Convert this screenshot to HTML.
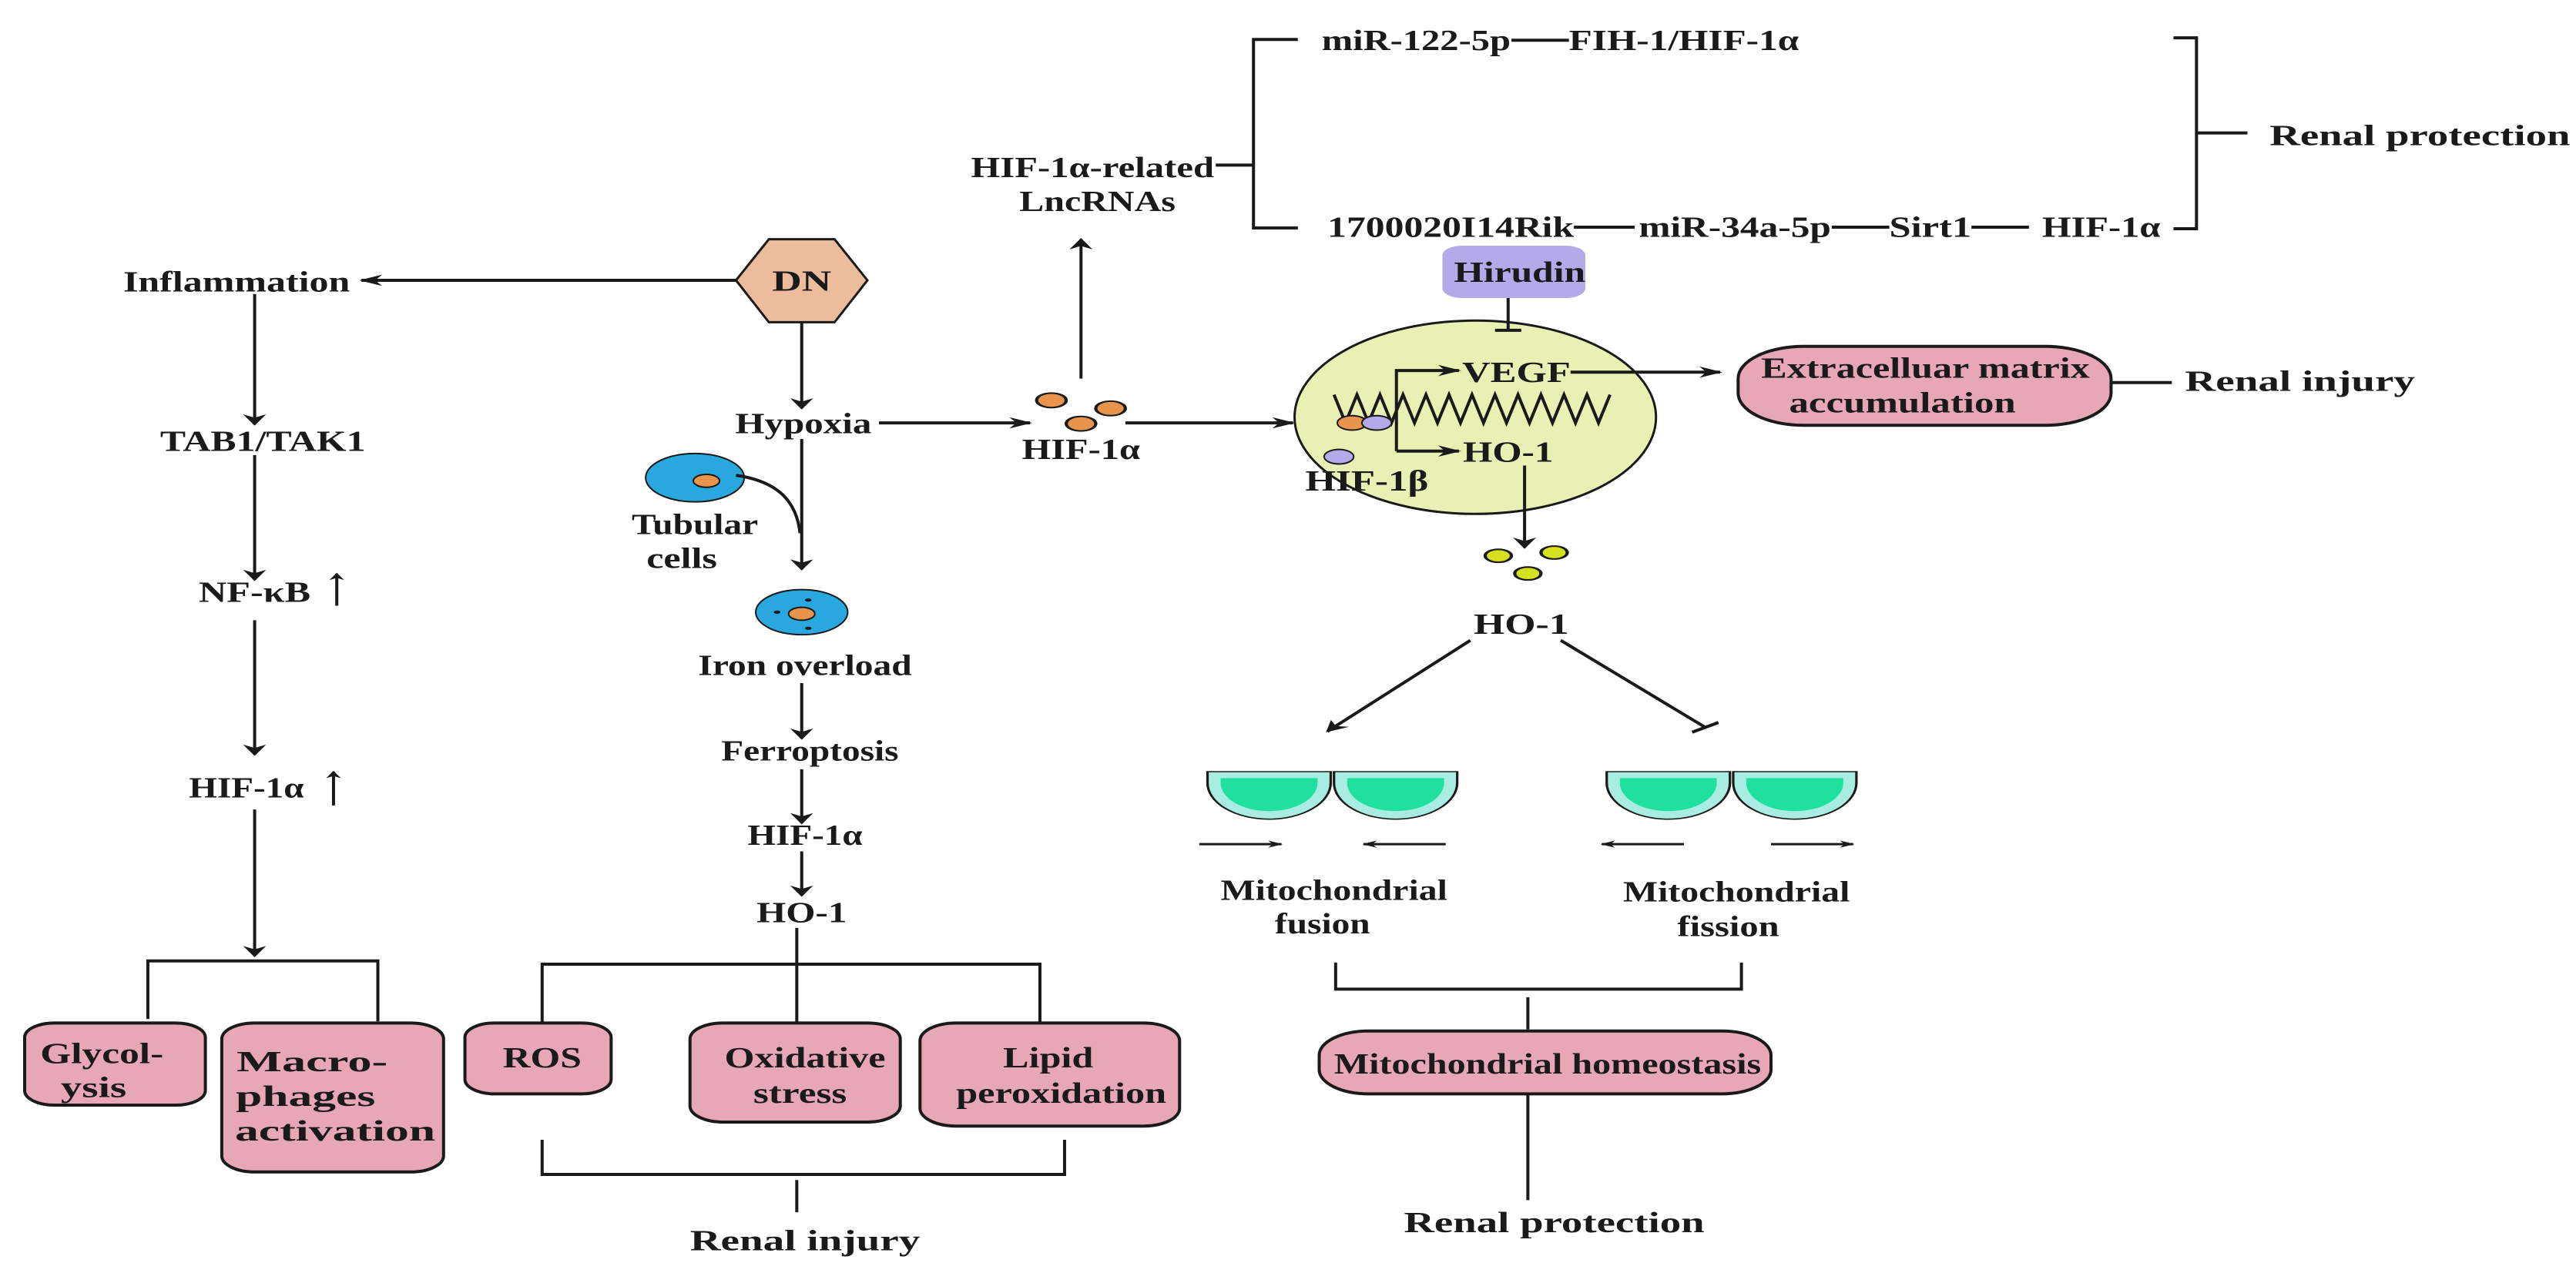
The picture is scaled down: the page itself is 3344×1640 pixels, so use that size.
<!DOCTYPE html>
<html><head><meta charset="utf-8"><style>
html,body{margin:0;padding:0;background:#fff;}
svg{display:block;}
text{font-family:"Liberation Serif",serif;font-weight:bold;font-size:36px;fill:#1a1a1a;transform:translateY(3px);}
.l{stroke:#1a1a1a;stroke-width:4;fill:none;vector-effect:non-scaling-stroke;}
.b{stroke:#1a1a1a;stroke-width:4;fill:#e8a7b7;vector-effect:non-scaling-stroke;}
</style></head><body>
<svg width="3344" height="1640" viewBox="0 0 1568 1568" preserveAspectRatio="none" xmlns="http://www.w3.org/2000/svg">
<defs>
<marker id="a" viewBox="0 0 10 10" refX="9" refY="5" markerWidth="9" markerHeight="9" markerUnits="userSpaceOnUse" orient="auto"><path d="M0,0 L10,5 L0,10 L3,5z" fill="#1a1a1a"/></marker>
<marker id="A" viewBox="0 0 10 10" refX="9" refY="5" markerWidth="14" markerHeight="14" markerUnits="userSpaceOnUse" orient="auto"><path d="M0,0 L10,5 L0,10 L3,5z" fill="#1a1a1a"/></marker>
</defs>
<g text-anchor="middle">
<path class="l" d="M790,49 H763 V283 H790"/>
<path class="l" d="M740,205 H763"/>
<path class="l" d="M1323,47 H1337 V284 H1323 M1337,165 H1368"/>
<path class="l" d="M920,50 H955 M958,282 H995 M1115,282 H1150 M1200,282 H1235"/>
<text x="862" y="59" textLength="115" lengthAdjust="spacingAndGlyphs">miR-122-5p</text>
<text x="1025" y="59" textLength="140" lengthAdjust="spacingAndGlyphs">FIH-1/HIF-1α</text>
<text x="1473" y="177" textLength="183" lengthAdjust="spacingAndGlyphs">Renal protection</text>
<text x="665" y="217" textLength="148" lengthAdjust="spacingAndGlyphs">HIF-1α-related</text>
<text x="668" y="259" textLength="95" lengthAdjust="spacingAndGlyphs">LncRNAs</text>
<text x="883" y="291" textLength="150" lengthAdjust="spacingAndGlyphs">1700020I14Rik</text>
<text x="1056" y="291" textLength="117" lengthAdjust="spacingAndGlyphs">miR-34a-5p</text>
<text x="1175" y="291" textLength="50" lengthAdjust="spacingAndGlyphs">Sirt1</text>
<text x="1279" y="291" textLength="72" lengthAdjust="spacingAndGlyphs">HIF-1α</text>

<polygon points="448,348 468,297 508,297 528,348 508,400 468,400" fill="#edbc9c" stroke="#1a1a1a" stroke-width="3" vector-effect="non-scaling-stroke"/>
<text x="488" y="358" textLength="36" lengthAdjust="spacingAndGlyphs">DN</text>
<path class="l" d="M448,348 H220" marker-end="url(#A)"/>
<text x="144" y="359" textLength="138" lengthAdjust="spacingAndGlyphs">Inflammation</text>

<path class="l" d="M155,365 V527" marker-end="url(#A)"/>
<text x="160" y="557" textLength="125" lengthAdjust="spacingAndGlyphs">TAB1/TAK1</text>
<path class="l" d="M155,565 V720" marker-end="url(#A)"/>
<text x="155" y="744" textLength="68" lengthAdjust="spacingAndGlyphs">NF-κB</text>
<path class="l" d="M205,752 V712" marker-end="url(#a)"/>
<path class="l" d="M155,770 V937" marker-end="url(#A)"/>
<text x="150" y="987" textLength="70" lengthAdjust="spacingAndGlyphs">HIF-1α</text>
<path class="l" d="M203,1000 V958" marker-end="url(#a)"/>
<path class="l" d="M155,1005 V1187" marker-end="url(#A)"/>
<path class="l" d="M90,1265 V1193 H230 V1268"/>
<rect class="b" x="15" y="1270" width="110" height="102" rx="18"/>
<text x="62" y="1317" textLength="75" lengthAdjust="spacingAndGlyphs">Glycol-</text>
<text x="57" y="1359" textLength="40" lengthAdjust="spacingAndGlyphs">ysis</text>
<rect class="b" x="135" y="1270" width="135" height="185" rx="20"/>
<text x="190" y="1327" textLength="92" lengthAdjust="spacingAndGlyphs">Macro-</text>
<text x="186" y="1370" textLength="85" lengthAdjust="spacingAndGlyphs">phages</text>
<text x="204" y="1413" textLength="122" lengthAdjust="spacingAndGlyphs">activation</text>

<path class="l" d="M488,400 V507" marker-end="url(#A)"/>
<text x="489" y="535" textLength="83" lengthAdjust="spacingAndGlyphs">Hypoxia</text>
<path class="l" d="M535,525 H627" marker-end="url(#A)"/>
<path class="l" d="M488,545 V707" marker-end="url(#A)"/>
<circle cx="423" cy="593" r="30" fill="#29a8e0" stroke="#1a1a1a" stroke-width="2" vector-effect="non-scaling-stroke"/>
<circle cx="430" cy="597" r="8" fill="#e8944c" stroke="#1a1a1a" stroke-width="2" vector-effect="non-scaling-stroke"/>
<path class="l" d="M448,590 C475,598 485,625 487,662"/>
<text x="423" y="660" textLength="77" lengthAdjust="spacingAndGlyphs">Tubular</text>
<text x="415" y="702" textLength="43" lengthAdjust="spacingAndGlyphs">cells</text>
<circle cx="488" cy="760" r="28" fill="#29a8e0" stroke="#1a1a1a" stroke-width="2" vector-effect="non-scaling-stroke"/>
<circle cx="488" cy="762" r="8" fill="#e8944c" stroke="#1a1a1a" stroke-width="2" vector-effect="non-scaling-stroke"/>
<circle cx="473" cy="760" r="2" fill="#1a1a1a"/><circle cx="492" cy="745" r="2" fill="#1a1a1a"/><circle cx="492" cy="780" r="2" fill="#1a1a1a"/>
<text x="490" y="835" textLength="130" lengthAdjust="spacingAndGlyphs">Iron overload</text>
<path class="l" d="M488,848 V917" marker-end="url(#A)"/>
<text x="493" y="941" textLength="108" lengthAdjust="spacingAndGlyphs">Ferroptosis</text>
<path class="l" d="M488,955 V1022" marker-end="url(#A)"/>
<text x="490" y="1046" textLength="70" lengthAdjust="spacingAndGlyphs">HIF-1α</text>
<path class="l" d="M488,1057 V1112" marker-end="url(#A)"/>
<text x="488" y="1142" textLength="55" lengthAdjust="spacingAndGlyphs">HO-1</text>
<path class="l" d="M485,1152 V1270"/>
<path class="l" d="M330,1270 V1197 H633 V1270"/>
<rect class="b" x="283" y="1270" width="89" height="88" rx="18"/>
<text x="330" y="1322" textLength="48" lengthAdjust="spacingAndGlyphs">ROS</text>
<rect class="b" x="420" y="1270" width="128" height="123" rx="20"/>
<text x="490" y="1322" textLength="98" lengthAdjust="spacingAndGlyphs">Oxidative</text>
<text x="487" y="1366" textLength="57" lengthAdjust="spacingAndGlyphs">stress</text>
<rect class="b" x="560" y="1270" width="158" height="128" rx="22"/>
<text x="638" y="1322" textLength="55" lengthAdjust="spacingAndGlyphs">Lipid</text>
<text x="646" y="1366" textLength="128" lengthAdjust="spacingAndGlyphs">peroxidation</text>
<path class="l" d="M330,1415 V1458 H648 V1415 M485,1465 V1505"/>
<text x="490" y="1549" textLength="140" lengthAdjust="spacingAndGlyphs">Renal injury</text>

<g fill="#e8944c" stroke="#1a1a1a" stroke-width="2" vector-effect="non-scaling-stroke">
<circle cx="640" cy="497" r="9"/><circle cx="676" cy="507" r="9"/><circle cx="658" cy="526" r="9"/></g>
<text x="658" y="567" textLength="72" lengthAdjust="spacingAndGlyphs">HIF-1α</text>
<path class="l" d="M658,470 V297" marker-end="url(#A)"/>
<path class="l" d="M685,525 H787" marker-end="url(#A)"/>

<ellipse cx="898" cy="518" rx="110" ry="120" fill="#e9f0b4" stroke="#1a1a1a" stroke-width="3" vector-effect="non-scaling-stroke"/>
<rect x="878" y="305" width="87" height="65" rx="12" fill="#b3abe9"/>
<text x="925" y="347" textLength="80" lengthAdjust="spacingAndGlyphs">Hirudin</text>
<path class="l" d="M918,370 V410 M910,410 H926"/>
<path class="l" d="M812,490 l7,35 l7,-35 l7,35 l7,-35 l7,35 l7,-35 l7,35 l7,-35 l7,35 l7,-35 l7,35 l7,-35 l7,35 l7,-35 l7,35 l7,-35 l7,35 l7,-35 l7,35 l7,-35 l7,35 l7,-35 l7,35 l7,-35"/>
<path class="l" d="M850,560 V460 H888" marker-end="url(#A)"/>
<path class="l" d="M850,560 H888" marker-end="url(#A)"/>
<text x="923" y="471" textLength="66" lengthAdjust="spacingAndGlyphs">VEGF</text>
<text x="918" y="570" textLength="55" lengthAdjust="spacingAndGlyphs">HO-1</text>
<circle cx="823" cy="525" r="9" fill="#e8944c" stroke="#1a1a1a" stroke-width="2" vector-effect="non-scaling-stroke"/>
<circle cx="838" cy="525" r="9" fill="#b3abe9" stroke="#1a1a1a" stroke-width="2" vector-effect="non-scaling-stroke"/>
<circle cx="815" cy="567" r="9" fill="#b3abe9" stroke="#1a1a1a" stroke-width="2" vector-effect="non-scaling-stroke"/>
<text x="832" y="606" textLength="75" lengthAdjust="spacingAndGlyphs">HIF-1β</text>
<path class="l" d="M956,462 H1047" marker-end="url(#A)"/>
<rect class="b" x="1058" y="430" width="227" height="98" rx="40"/>
<text x="1172" y="466" textLength="200" lengthAdjust="spacingAndGlyphs">Extracelluar matrix</text>
<text x="1158" y="509" textLength="138" lengthAdjust="spacingAndGlyphs">accumulation</text>
<path class="l" d="M1285,475 H1322"/>
<text x="1400" y="482" textLength="140" lengthAdjust="spacingAndGlyphs">Renal injury</text>
<path class="l" d="M928,578 V680" marker-end="url(#A)"/>
<g fill="#d4e020" stroke="#1a1a1a" stroke-width="2" vector-effect="non-scaling-stroke">
<circle cx="912" cy="690" r="8"/><circle cx="946" cy="686" r="8"/><circle cx="930" cy="712" r="8"/></g>
<text x="926" y="784" textLength="58" lengthAdjust="spacingAndGlyphs">HO-1</text>
<path class="l" d="M895,795 L808,908" marker-end="url(#A)"/>
<path class="l" d="M950,795 L1038,903 M1030,909 L1046,897"/>

<g stroke="#1a1a1a" stroke-width="1.5" vector-effect="non-scaling-stroke">
<g><path d="M735,958 H810 V972 A37.5,45 0 0 1 735,972 Z" fill="#a9ece1"/><path d="M743,966 H802 V972 A29.5,35 0 0 1 743,972 Z" fill="#20e0a0" stroke="none"/></g>
<g transform="translate(77,0)"><path d="M735,958 H810 V972 A37.5,45 0 0 1 735,972 Z" fill="#a9ece1"/><path d="M743,966 H802 V972 A29.5,35 0 0 1 743,972 Z" fill="#20e0a0" stroke="none"/></g>
<g transform="translate(243,0)"><path d="M735,958 H810 V972 A37.5,45 0 0 1 735,972 Z" fill="#a9ece1"/><path d="M743,966 H802 V972 A29.5,35 0 0 1 743,972 Z" fill="#20e0a0" stroke="none"/></g>
<g transform="translate(320,0)"><path d="M735,958 H810 V972 A37.5,45 0 0 1 735,972 Z" fill="#a9ece1"/><path d="M743,966 H802 V972 A29.5,35 0 0 1 743,972 Z" fill="#20e0a0" stroke="none"/></g>
</g>
<path class="l" style="stroke-width:3" d="M730,1048 H780" marker-end="url(#a)"/>
<path class="l" style="stroke-width:3" d="M880,1048 H830" marker-end="url(#a)"/>
<path class="l" style="stroke-width:3" d="M1025,1048 H975" marker-end="url(#a)"/>
<path class="l" style="stroke-width:3" d="M1078,1048 H1128" marker-end="url(#a)"/>
<text x="812" y="1114" textLength="138" lengthAdjust="spacingAndGlyphs">Mitochondrial</text>
<text x="805" y="1156" textLength="58" lengthAdjust="spacingAndGlyphs">fusion</text>
<text x="1057" y="1116" textLength="138" lengthAdjust="spacingAndGlyphs">Mitochondrial</text>
<text x="1052" y="1159" textLength="62" lengthAdjust="spacingAndGlyphs">fission</text>
<path class="l" d="M813,1195 V1228 H1060 V1195 M930,1238 V1278"/>
<rect class="b" x="803" y="1280" width="275" height="78" rx="30"/>
<text x="942" y="1330" textLength="260" lengthAdjust="spacingAndGlyphs">Mitochondrial homeostasis</text>
<path class="l" d="M930,1358 V1490"/>
<text x="946" y="1527" textLength="183" lengthAdjust="spacingAndGlyphs">Renal protection</text>
</g>
</svg>
</body></html>
